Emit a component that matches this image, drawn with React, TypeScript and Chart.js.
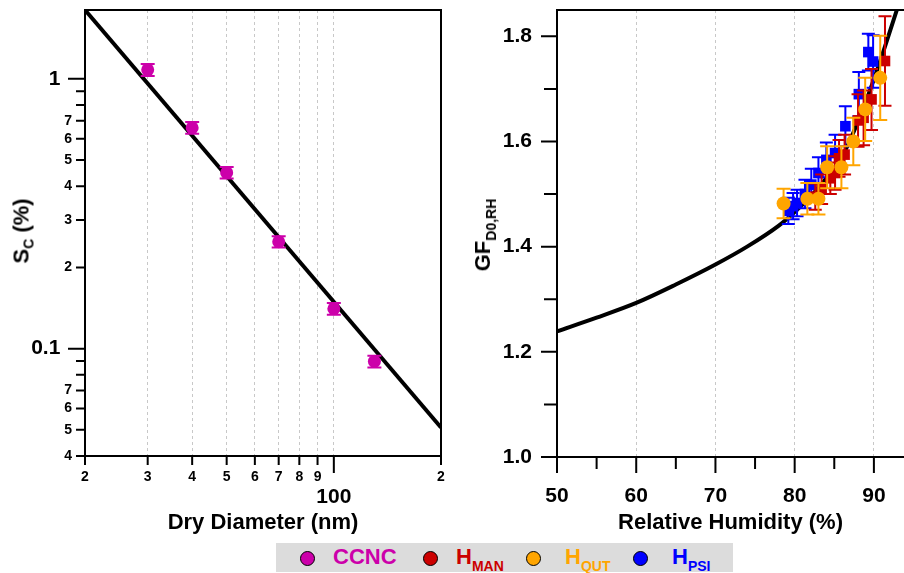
import React, { useEffect, useRef } from "react";
import { Chart, registerables } from "chart.js";

Chart.register(...registerables);

const FONT = '"Liberation Sans", Arial, Helvetica, sans-serif';
const MAGENTA = "#CC00AA";
const RED = "#CC0000";
const ORANGE = "#FFA500";
const BLUE = "#0000FF";
const GRID = "#c8c8c8";

// ---------------- Left panel: critical supersaturation vs dry diameter ----------------
const diameterTicks = [20, 30, 40, 50, 60, 70, 80, 90, 100, 200];
const diameterTickLabels = ["2", "3", "4", "5", "6", "7", "8", "9", "100", "2"];
const diameterMajor = [100];
const diameterGrid = [30, 40, 50, 60, 70, 80, 90, 100];

const scTicks = [0.04, 0.05, 0.06, 0.07, 0.08, 0.09, 0.1, 0.2, 0.3, 0.4, 0.5, 0.6, 0.7, 0.8, 0.9, 1];
const scTickLabels = ["4", "5", "6", "7", "", "", "0.1", "2", "3", "4", "5", "6", "7", "", "", "1"];
const scMajor = [0.1, 1];

const ccncDiameter = [30, 40, 50, 70, 100, 130];
const ccncSc = [1.08, 0.659, 0.449, 0.249, 0.1406, 0.0897];
const ccncErr = [0.055, 0.033, 0.022, 0.012, 0.007, 0.0045];

const fitDiameter = [20, 200];
const fitSc = [1.8, 0.051];

// ---------------- Right panel: growth factor vs RH ----------------
const rhTicks = [50, 55, 60, 65, 70, 75, 80, 85, 90];
const rhTickLabels = ["50", "", "60", "", "70", "", "80", "", "90"];
const rhMajor = [50, 60, 70, 80, 90];
const rhGrid = [60, 70, 80, 90];

const gfTicks = [1.0, 1.1, 1.2, 1.3, 1.4, 1.5, 1.6, 1.7, 1.8];
const gfTickLabels = ["1.0", "", "1.2", "", "1.4", "", "1.6", "", "1.8"];
const gfMajor = [1.0, 1.2, 1.4, 1.6, 1.8];

const curveRH = [50, 55, 60, 65, 70, 74, 78, 80, 82, 84, 86, 88, 90, 91.5, 93];
const curveGF = [1.239, 1.265, 1.293, 1.328, 1.366, 1.4, 1.44, 1.466, 1.495, 1.53, 1.572, 1.638, 1.718, 1.785, 1.855];

const psiRH = [79.2, 79.8, 80.3, 81.3, 82.1, 83.0, 84.0, 85.1, 86.4, 88.1, 89.3, 89.9];
const psiGF = [1.468, 1.477, 1.483, 1.5, 1.518, 1.54, 1.565, 1.578, 1.629, 1.69, 1.77, 1.752];
const psiErr = [0.025, 0.025, 0.025, 0.027, 0.03, 0.03, 0.033, 0.035, 0.038, 0.042, 0.035, 0.05];

const manRH = [82.6, 83.4, 84.5, 85.1, 85.6, 86.3, 88.0, 88.7, 89.7, 91.4];
const manGF = [1.495, 1.509, 1.53, 1.54, 1.568, 1.575, 1.64, 1.645, 1.68, 1.753];
const manErr = [0.025, 0.028, 0.03, 0.032, 0.035, 0.038, 0.05, 0.052, 0.058, 0.085];

const qutRH = [78.6, 81.6, 83.0, 84.1, 85.9, 87.4, 88.9, 90.8];
const qutGF = [1.482, 1.491, 1.491, 1.551, 1.551, 1.6, 1.661, 1.721];
const qutErr = [0.028, 0.03, 0.03, 0.04, 0.04, 0.045, 0.06, 0.08];

// ---------------- Legend ----------------
const legendNames = ["CCNC", "H", "H", "H"];
const legendSubs = ["", "MAN", "QUT", "PSI"];
const legendColors = [MAGENTA, RED, ORANGE, BLUE];
const legendMarkerX = [31, 154, 257, 364];
const legendTextX = [57, 180, 289, 396];

function same(a: number, b: number) {
  return Math.abs(a - b) <= Math.abs(a) * 1e-6 + 1e-12;
}
function isIn(list: number[], v: number) {
  return list.some((x) => same(x, v));
}
function pick(vals: number[], labels: string[], v: number) {
  for (let i = 0; i < vals.length; i++) if (same(vals[i], v)) return labels[i];
  return "";
}

const zeroPadding = () => ({ left: 0, top: 0, right: 0, bottom: 0 });

function fixX(height: number) {
  return (s: any) => {
    s.height = height;
    s.paddingLeft = 0;
    s.paddingRight = 0;
    s.paddingTop = 0;
    s.paddingBottom = 0;
    s.getPadding = zeroPadding;
  };
}
function fixY(width: number) {
  return (s: any) => {
    s.width = width;
    s.paddingLeft = 0;
    s.paddingRight = 0;
    s.paddingTop = 0;
    s.paddingBottom = 0;
    s.getPadding = zeroPadding;
  };
}

const errorBarPlugin = {
  id: "errorBars",
  beforeDatasetDraw(chart: any, args: any) {
    const ds: any = chart.data.datasets[args.index];
    if (!ds.errY) return;
    const meta = args.meta;
    const xs = chart.scales[meta.xAxisID];
    const ys = chart.scales[meta.yAxisID];
    const ctx = chart.ctx;
    const half = (ds.capWidth || 14) / 2;
    ctx.save();
    ctx.strokeStyle = ds.errColor;
    ctx.lineWidth = 2;
    ds.data.forEach((p: any, i: number) => {
      const e = ds.errY[i];
      const x = xs.getPixelForValue(p.x);
      const y1 = ys.getPixelForValue(p.y + e);
      const y2 = ys.getPixelForValue(p.y - e);
      ctx.beginPath();
      ctx.moveTo(x, y1);
      ctx.lineTo(x, y2);
      ctx.moveTo(x - half, y1);
      ctx.lineTo(x + half, y1);
      ctx.moveTo(x - half, y2);
      ctx.lineTo(x + half, y2);
      ctx.stroke();
    });
    ctx.restore();
  },
};

function framePlugin(opt: {
  xMajor: number[];
  yMajor: number[];
  xLen: [number, number];
  yLen: [number, number];
  right: boolean;
}) {
  return {
    id: "frameTicks",
    afterDraw(chart: any) {
      const { ctx, chartArea: a } = chart;
      const xs = chart.scales.x;
      const ys = chart.scales.y;
      ctx.save();
      ctx.strokeStyle = "#000";
      ctx.lineWidth = 2;
      ctx.beginPath();
      ctx.moveTo(a.left - 1, a.top);
      ctx.lineTo(a.right + 1, a.top);
      if (opt.right) {
        ctx.moveTo(a.right, a.top);
        ctx.lineTo(a.right, a.bottom + 1);
      }
      for (const t of xs.ticks) {
        const px = xs.getPixelForValue(t.value);
        const len = isIn(opt.xMajor, t.value) ? opt.xLen[0] : opt.xLen[1];
        ctx.moveTo(px, a.bottom);
        ctx.lineTo(px, a.bottom + len);
      }
      for (const t of ys.ticks) {
        const py = ys.getPixelForValue(t.value);
        const len = isIn(opt.yMajor, t.value) ? opt.yLen[0] : opt.yLen[1];
        ctx.moveTo(a.left, py);
        ctx.lineTo(a.left - len, py);
      }
      ctx.stroke();
      ctx.restore();
    },
  };
}

const titleFont = { family: FONT, size: 22, weight: "bold" as const, lineHeight: 1.2 };

export default function App() {
  const leftRef = useRef<HTMLCanvasElement>(null);
  const rightRef = useRef<HTMLCanvasElement>(null);

  useEffect(() => {
    const left = new Chart(leftRef.current as HTMLCanvasElement, {
      type: "scatter",
      data: {
        datasets: [
          {
            label: "CCNC",
            data: ccncDiameter.map((x, i) => ({ x, y: ccncSc[i] })),
            errY: ccncErr,
            errColor: MAGENTA,
            capWidth: 14,
            pointRadius: 6.5,
            pointBackgroundColor: MAGENTA,
            pointBorderColor: MAGENTA,
            pointBorderWidth: 0,
            order: 1,
          } as any,
          {
            label: "fit",
            data: fitDiameter.map((x, i) => ({ x, y: fitSc[i] })),
            showLine: true,
            borderColor: "#000",
            borderWidth: 4,
            pointRadius: 0,
            clip: 0,
            order: 2,
          } as any,
        ],
      },
      options: {
        responsive: false,
        animation: false,
        events: [],
        layout: { autoPadding: false, padding: { left: 0, top: 10, right: 9, bottom: 0 } },
        plugins: { legend: { display: false }, tooltip: { enabled: false } },
        scales: {
          x: {
            type: "logarithmic",
            position: "bottom",
            min: 20,
            max: 200,
            afterBuildTicks: (s: any) => {
              s.ticks = diameterTicks.map((v) => ({ value: v }));
            },
            afterFit: fixX(84),
            ticks: {
              autoSkip: false,
              maxRotation: 0,
              minRotation: 0,
              padding: 13,
              color: "#000",
              font: (c: any) =>
                c.tick && isIn(diameterMajor, c.tick.value)
                  ? { family: FONT, size: 21, weight: "bold", lineHeight: 0.89 }
                  : { family: FONT, size: 14, weight: "bold", lineHeight: 1.2 },
              callback: (v: any) => {
                const l = pick(diameterTicks, diameterTickLabels, Number(v));
                return isIn(diameterMajor, Number(v)) ? ["", l] : l;
              },
            },
            grid: {
              drawTicks: false,
              lineWidth: 1,
              color: (c: any) => (c.tick && isIn(diameterGrid, c.tick.value) ? GRID : "transparent"),
            },
            border: { display: true, color: "#000", width: 2, dash: [3, 3] },
            title: { display: true, text: "Dry Diameter (nm)", color: "#000", font: titleFont, padding: { top: 0, bottom: 4 } },
          } as any,
          y: {
            type: "logarithmic",
            position: "left",
            min: 0.04,
            max: 1.8,
            afterBuildTicks: (s: any) => {
              s.ticks = scTicks.map((v) => ({ value: v }));
            },
            afterFit: fixY(85),
            ticks: {
              autoSkip: false,
              padding: 13,
              color: "#000",
              font: (c: any) =>
                c.tick && isIn(scMajor, c.tick.value)
                  ? { family: FONT, size: 21, weight: "bold", lineHeight: 1.2 }
                  : { family: FONT, size: 14, weight: "bold", lineHeight: 1.2 },
              callback: (v: any) => {
                const l = pick(scTicks, scTickLabels, Number(v));
                return isIn(scMajor, Number(v)) ? l + "  " : l;
              },
            },
            grid: { display: false, drawTicks: false },
            border: { display: true, color: "#000", width: 2 },
          } as any,
        },
      },
      plugins: [
        errorBarPlugin,
        framePlugin({ xMajor: diameterMajor, yMajor: scMajor, xLen: [17, 9], yLen: [17, 9], right: true }),
      ],
    } as any);

    const right = new Chart(rightRef.current as HTMLCanvasElement, {
      type: "scatter",
      data: {
        datasets: [
          {
            label: "H_QUT",
            data: qutRH.map((x, i) => ({ x, y: qutGF[i] })),
            errY: qutErr,
            errColor: ORANGE,
            capWidth: 14,
            pointStyle: "circle",
            pointRadius: 7,
            pointBackgroundColor: ORANGE,
            pointBorderWidth: 0,
            order: 1,
          } as any,
          {
            label: "H_MAN",
            data: manRH.map((x, i) => ({ x, y: manGF[i] })),
            errY: manErr,
            errColor: RED,
            capWidth: 13,
            pointStyle: "rect",
            pointRadius: 7.5,
            pointBackgroundColor: RED,
            pointBorderWidth: 0,
            order: 2,
          } as any,
          {
            label: "H_PSI",
            data: psiRH.map((x, i) => ({ x, y: psiGF[i] })),
            errY: psiErr,
            errColor: BLUE,
            capWidth: 13,
            pointStyle: "rect",
            pointRadius: 7.5,
            pointBackgroundColor: BLUE,
            pointBorderWidth: 0,
            order: 3,
          } as any,
          {
            label: "curve",
            data: curveRH.map((x, i) => ({ x, y: curveGF[i] })),
            showLine: true,
            borderColor: "#000",
            borderWidth: 4,
            pointRadius: 0,
            cubicInterpolationMode: "monotone",
            clip: 0,
            order: 4,
          } as any,
        ],
      },
      options: {
        responsive: false,
        animation: false,
        events: [],
        layout: { autoPadding: false, padding: { left: 0, top: 10, right: 0, bottom: 0 } },
        plugins: { legend: { display: false }, tooltip: { enabled: false } },
        scales: {
          x: {
            type: "linear",
            position: "bottom",
            min: 50,
            max: 93.8,
            afterBuildTicks: (s: any) => {
              s.ticks = rhTicks.map((v) => ({ value: v }));
            },
            afterFit: fixX(83),
            ticks: {
              autoSkip: false,
              maxRotation: 0,
              minRotation: 0,
              padding: 27,
              color: "#000",
              font: { family: FONT, size: 21, weight: "bold", lineHeight: 1.2 },
              callback: (v: any) => pick(rhTicks, rhTickLabels, Number(v)),
            },
            grid: {
              drawTicks: false,
              lineWidth: 1,
              color: (c: any) => (c.tick && isIn(rhGrid, c.tick.value) ? GRID : "transparent"),
            },
            border: { display: true, color: "#000", width: 2, dash: [3, 3] },
            title: { display: true, text: "Relative Humidity (%)", color: "#000", font: titleFont, padding: { top: 0, bottom: 4 } },
          } as any,
          y: {
            type: "linear",
            position: "left",
            min: 1.0,
            max: 1.85,
            afterBuildTicks: (s: any) => {
              s.ticks = gfTicks.map((v) => ({ value: v }));
            },
            afterFit: fixY(107),
            ticks: {
              autoSkip: false,
              padding: 25,
              color: "#000",
              font: { family: FONT, size: 21, weight: "bold", lineHeight: 1.2 },
              callback: (v: any) => pick(gfTicks, gfTickLabels, Number(v)),
            },
            grid: { display: false, drawTicks: false },
            border: { display: true, color: "#000", width: 2 },
          } as any,
        },
      },
      plugins: [
        errorBarPlugin,
        framePlugin({ xMajor: rhMajor, yMajor: gfMajor, xLen: [16, 12], yLen: [16, 13], right: false }),
      ],
    } as any);

    return () => {
      left.destroy();
      right.destroy();
    };
  }, []);

  const bold22 = `bold 22px ${FONT}`;

  return (
    <div
      style={{
        position: "fixed",
        left: 0,
        top: 0,
        width: 904,
        height: 573,
        background: "#fff",
        overflow: "hidden",
        fontFamily: FONT,
      }}
    >
      <canvas
        ref={leftRef}
        width={450}
        height={540}
        style={{ position: "absolute", left: 0, top: 0, width: 450, height: 540 }}
      />
      <canvas
        ref={rightRef}
        width={454}
        height={540}
        style={{ position: "absolute", left: 450, top: 0, width: 454, height: 540 }}
      />
      <div
        style={{
          position: "absolute",
          left: 25,
          top: 231,
          transform: "translate(-50%, -50%) rotate(-90deg)",
          whiteSpace: "nowrap",
          font: bold22,
          lineHeight: "26px",
          color: "#000",
        }}
      >
        S<span style={{ fontSize: 14, verticalAlign: -5 }}>C</span> (%)
      </div>
      <div
        style={{
          position: "absolute",
          left: 487,
          top: 235,
          transform: "translate(-50%, -50%) rotate(-90deg)",
          whiteSpace: "nowrap",
          font: bold22,
          lineHeight: "26px",
          color: "#000",
        }}
      >
        GF<span style={{ fontSize: 14, verticalAlign: -6 }}>D0,RH</span>
      </div>
      <div
        style={{
          position: "absolute",
          left: 276,
          top: 543,
          width: 457,
          height: 29,
          background: "#DCDCDC",
        }}
      >
        {legendNames.map((name, i) => (
          <React.Fragment key={i}>
            <div
              style={{
                position: "absolute",
                left: legendMarkerX[i] - 7.5,
                top: 15 - 7.5,
                width: 13,
                height: 13,
                borderRadius: "50%",
                background: legendColors[i],
                border: "1px solid #000",
              }}
            />
            <div
              style={{
                position: "absolute",
                left: legendTextX[i],
                top: 3,
                font: bold22,
                lineHeight: "22px",
                color: legendColors[i],
                whiteSpace: "nowrap",
              }}
            >
              {name}
              {legendSubs[i] ? (
                <span style={{ fontSize: 14, verticalAlign: -7 }}>{legendSubs[i]}</span>
              ) : null}
            </div>
          </React.Fragment>
        ))}
      </div>
    </div>
  );
}
